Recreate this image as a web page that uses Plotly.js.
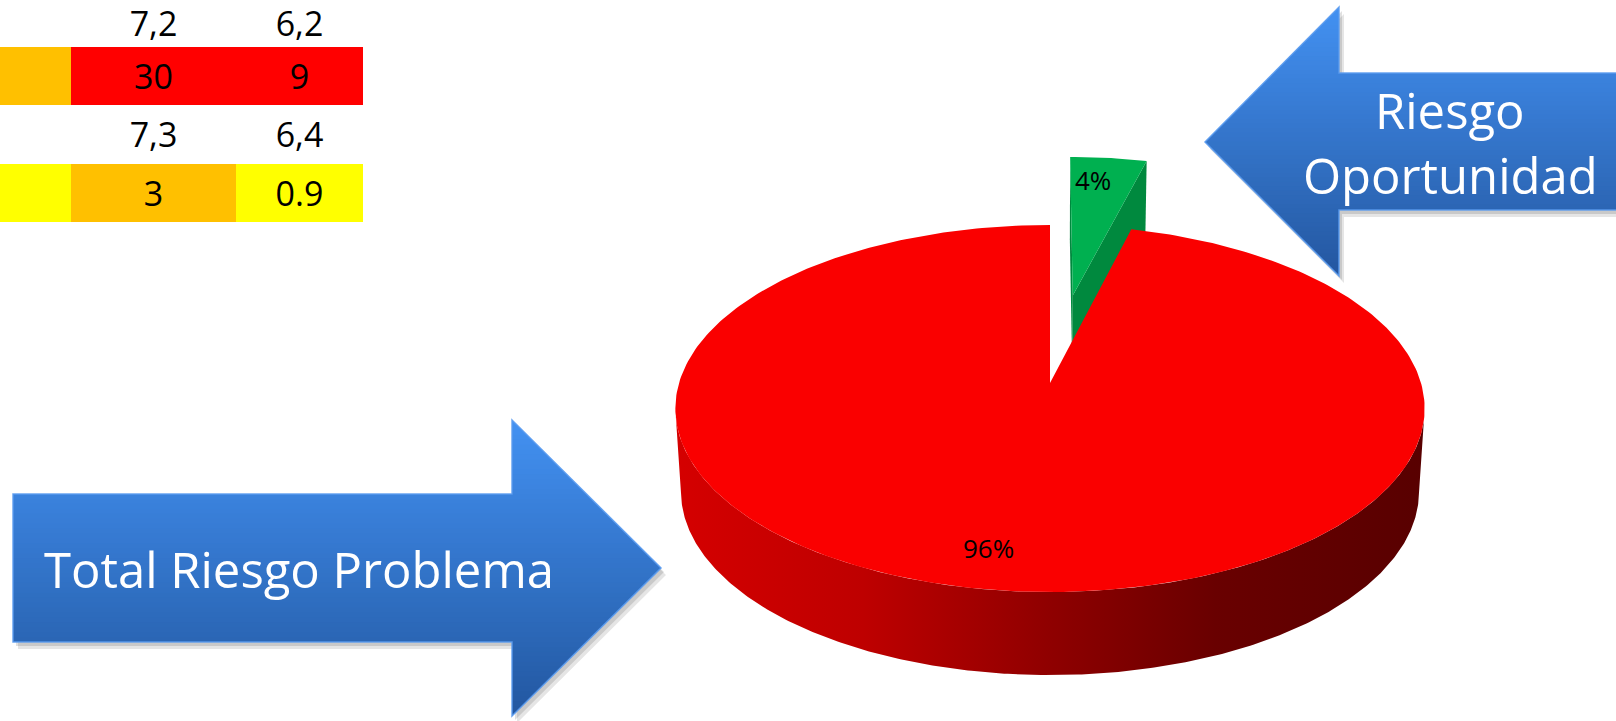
<!DOCTYPE html>
<html><head><meta charset="utf-8">
<script src="https://cdn.plot.ly/plotly-3.0.1.min.js"></script>
<style>html,body{margin:0;padding:0;background:#fff;} #chart{width:1616px;height:721px;}</style>
</head><body><div id="chart"></div>
<script>
// ---------------- data ----------------
const sliceLabels = ['Riesgo Oportunidad', 'Total Riesgo Problema'];
const sliceValues = [4, 96];
const slicePull = [0.525, 0];
const sliceColors = ['#00b050', '#fa0000'];

const tableHeader = ['', '7,2', '6,2'];
const tableRow1 = ['', '30', '9'];
const tableRow2 = ['', '7,3', '6,4'];
const tableRow3 = ['', '3', '0.9'];
const tableHeaderColors = ['#ffffff', '#ffffff', '#ffffff'];
const tableRow1Colors = ['#ffc000', '#ff0000', '#ff0000'];
const tableRow2Colors = ['#ffffff', '#ffffff', '#ffffff'];
const tableRow3Colors = ['#ffff00', '#ffc000', '#ffff00'];

const arrowProblemText = 'Total Riesgo Problema';
const arrowOpportunityLines = ['Riesgo', 'Oportunidad'];

// ---------------- style / geometry ----------------
const W = 1616, H = 721;
const G = {cx: 1050, cy: 383, c: 371, b: 180, k: 0.139, depth: 83, taper: 0.015};
const labelRadius = 0.82;
const labelShiftX = [-10, -19];
const FONT = 'Open Sans, Lato, sans-serif';
const tableColEdges = [0, 71, 236, 363];
const tableRowEdges = [-11, 47, 105, 164, 222];
const tableTextDrop = 4;
const tableHeaderMinY = 27;

function proj(u, v, z) {
  const s = 1 / (1 + G.k * v);
  return [G.cx + G.c * u * s * (1 - G.taper * z), G.cy - G.b * v * s + G.depth * z];
}
const rad = d => d * Math.PI / 180;
function hexToRgb(h){h=h.replace('#','');return [parseInt(h.substr(0,2),16),parseInt(h.substr(2,2),16),parseInt(h.substr(4,2),16)];}
function shade(hex, f){const c=hexToRgb(hex).map(v=>Math.round(v*f));return 'rgb('+c.join(',')+')';}

const traces = [];
function polyTrace(pts, color, grad) {
  const t = {type:'scatter', mode:'lines', x: pts.map(p=>p[0]), y: pts.map(p=>p[1]),
    fill:'toself', fillcolor: color, line:{width:0, color:'rgba(0,0,0,0)'},
    hoverinfo:'skip', showlegend:false};
  if (grad) t.fillgradient = grad;
  traces.push(t);
}

// ---------- table (heatmap cells + text) ----------
const tableRows = [tableHeader, tableRow1, tableRow2, tableRow3];
const tableColorRows = [tableHeaderColors, tableRow1Colors, tableRow2Colors, tableRow3Colors];
const palette = ['#ffffff', '#ffff00', '#ffc000', '#ff0000'];
traces.push({type:'heatmap', x: tableColEdges, y: tableRowEdges,
  z: tableColorRows.map(r=>r.map(c=>palette.indexOf(c))), zmin:0, zmax:3,
  colorscale: palette.map((c,i)=>[i/(palette.length-1), c]), showscale:false, hoverinfo:'skip'});
const tx = [], ty = [], tt = [];
tableRows.forEach((row, r)=>row.forEach((val, c)=>{
  if (val === '') return;
  tx.push((tableColEdges[c]+tableColEdges[c+1])/2);
  ty.push(Math.max(tableHeaderMinY, (tableRowEdges[r]+tableRowEdges[r+1])/2 + tableTextDrop));
  tt.push(val);
}));
traces.push({type:'scatter', mode:'text', x:tx, y:ty, text:tt, textposition:'middle center',
  textfont:{family:FONT, size:34, color:'#000'}, hoverinfo:'skip', showlegend:false, cliponaxis:false});

// ---------- 3D pie ----------
const total = sliceValues.reduce((a,b)=>a+b,0);
let cum = 0;
const slices = sliceValues.map((v,i)=>{
  const a0 = 90 - 360*cum/total; cum += v;
  const a1 = 90 - 360*cum/total;
  const am = (a0+a1)/2;
  const ou = slicePull[i]*Math.cos(rad(am)), ov = slicePull[i]*Math.sin(rad(am));
  return {i, v, a0, a1, am, ou, ov};
});
const order = slices.slice().sort((p,q)=> (q.ov + Math.sin(rad(q.am))) - (p.ov + Math.sin(rad(p.am))));
const wallStops = [[0,0.85],[0.25,0.76],[0.5,0.57],[0.72,0.42],[1,0.35]];
const leftX = G.cx - G.c*1.01, rightX = G.cx + G.c*1.01;

order.forEach(s=>{
  const base = sliceColors[s.i];
  const rim = (th, z) => proj(s.ou + Math.cos(rad(th)), s.ov + Math.sin(rad(th)), z);
  const apex = z => proj(s.ou, s.ov, z);
  [[s.a0, -1], [s.a1, 1]].forEach(([th, sign])=>{
    const q = [apex(0), rim(th,0), rim(th,1), apex(1)];
    let area = 0;
    for (let j=0;j<4;j++){const P=q[j],Q=q[(j+1)%4]; area += P[0]*Q[1]-Q[0]*P[1];}
    if (area*sign > 0) polyTrace(q.concat([q[0]]), shade(base, 0.78));
  });
  const runs = []; let cur = null;
  const steps = Math.max(2, Math.ceil((s.a0 - s.a1)/0.5));
  for (let j=0;j<=steps;j++){
    const th = s.a0 - (s.a0 - s.a1)*j/steps;
    const vis = Math.sin(rad(th)) < -G.k;
    if (vis){ if(!cur){cur=[];runs.push(cur);} cur.push(th);} else cur = null;
  }
  runs.forEach(r=>{
    if (r.length < 2) return;
    const pts = r.map(th=>rim(th,0)).concat(r.slice().reverse().map(th=>rim(th,1)));
    pts.push(pts[0]);
    polyTrace(pts, base, {type:'horizontal', start:leftX, stop:rightX,
      colorscale: wallStops.map(([p,f])=>[p, shade(base,f)])});
  });
  const top = [apex(0)];
  const n = Math.max(2, Math.ceil((s.a0 - s.a1)));
  for (let j=0;j<=n;j++) top.push(rim(s.a0 - (s.a0 - s.a1)*j/n, 0));
  top.push(apex(0));
  polyTrace(top, base);
});

const annotations = slices.map(s=>{
  const p = proj(s.ou + labelRadius*Math.cos(rad(s.am)), s.ov + labelRadius*Math.sin(rad(s.am)), 0);
  return {x:p[0], y:p[1], xref:'x', yref:'y', text: Math.round(100*s.v/total)+'%', showarrow:false,
    xshift: labelShiftX[s.i], xanchor:'center', yanchor:'middle', font:{family:FONT, size:26, color:'#000'}};
});

// ---------- arrows (decorative shapes, vertical gradient bands) ----------
const arrowProblem = [[13,494],[512,494],[512,420],[661,568],[512,716],[512,642],[13,642]];
const arrowOpp = [[1205,142],[1339,7],[1339,73],[1630,73],[1630,210],[1339,210],[1339,276]];
function clipY(poly, yLim, keepAbove){
  const out=[];
  for (let i=0;i<poly.length;i++){
    const P=poly[i], Q=poly[(i+1)%poly.length];
    const inP = keepAbove ? P[1]>=yLim : P[1]<=yLim;
    const inQ = keepAbove ? Q[1]>=yLim : Q[1]<=yLim;
    if (inP) out.push(P);
    if (inP!==inQ){const t=(yLim-P[1])/(Q[1]-P[1]); out.push([P[0]+t*(Q[0]-P[0]), yLim]);}
  }
  return out;
}
const toPath = pts => 'M' + pts.map(p=>p[0].toFixed(2)+','+p[1].toFixed(2)).join('L') + 'Z';
function lerpColor(a, b, t){const A=hexToRgb(a),B=hexToRgb(b);return 'rgb('+A.map((v,i)=>Math.round(v+(B[i]-v)*t)).join(',')+')';}
const shapes = [];
function arrowShapes(poly, cTop, cBot){
  [[5,7,'rgba(0,0,0,0.10)'],[3,4,'rgba(0,0,0,0.12)']].forEach(([dx,dy,col])=>{
    shapes.push({type:'path', xref:'x', yref:'y', layer:'above', path: toPath(poly.map(p=>[p[0]+dx,p[1]+dy])),
      fillcolor: col, line:{width:0}});
  });
  const ys = poly.map(p=>p[1]); const y0 = Math.min(...ys), y1 = Math.max(...ys);
  const N = 60;
  for (let i=0;i<N;i++){
    const ya = y0 + (y1-y0)*i/N, yb = y0 + (y1-y0)*(i+1)/N + 0.8;
    const piece = clipY(clipY(poly, ya, true), yb, false);
    if (piece.length < 3) continue;
    shapes.push({type:'path', xref:'x', yref:'y', layer:'above', path: toPath(piece),
      fillcolor: lerpColor(cTop, cBot, (i+0.5)/N), line:{width:0}});
  }
  shapes.push({type:'path', xref:'x', yref:'y', layer:'above', path: toPath(poly),
    fillcolor:'rgba(0,0,0,0)', line:{width:1.5, color:'rgba(90,155,240,0.9)'}});
}
arrowShapes(arrowProblem, '#4391f2', '#2257a0');
arrowShapes(arrowOpp, '#4391f2', '#2457a0');

annotations.push({x:299, y:569, xref:'x', yref:'y', text: arrowProblemText, showarrow:false,
  xanchor:'center', yanchor:'middle', font:{family:FONT, size:49, color:'#ffffff'}});
annotations.push({x:1450, y:110, xref:'x', yref:'y', text: arrowOpportunityLines[0], showarrow:false,
  xanchor:'center', yanchor:'middle', font:{family:FONT, size:49, color:'#ffffff'}});
annotations.push({x:1450, y:175, xref:'x', yref:'y', text: arrowOpportunityLines[1], showarrow:false,
  xanchor:'center', yanchor:'middle', font:{family:FONT, size:49, color:'#ffffff'}});

const layout = {
  width: W, height: H, margin:{l:0,r:0,t:0,b:0}, paper_bgcolor:'#ffffff', plot_bgcolor:'#ffffff',
  showlegend:false,
  xaxis:{range:[0,W], visible:false, fixedrange:true, showgrid:false, zeroline:false},
  yaxis:{range:[H,0], visible:false, fixedrange:true, showgrid:false, zeroline:false},
  shapes, annotations
};
Plotly.newPlot('chart', traces, layout, {displayModeBar:false, staticPlot:true});
</script></body></html>
